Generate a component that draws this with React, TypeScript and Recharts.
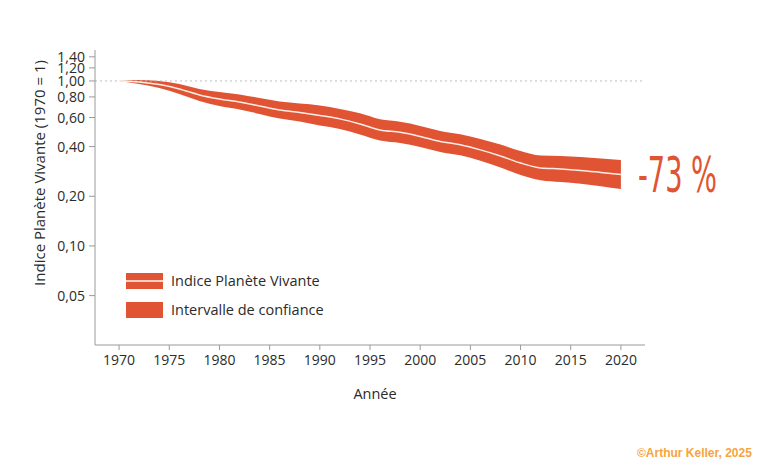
import React from "react";
import {
  ComposedChart,
  Area,
  Line,
  XAxis,
  YAxis,
  ReferenceLine,
  Legend,
} from "recharts";

const years = [
  1970, 1972, 1974, 1976, 1978, 1980, 1982, 1984, 1986, 1988, 1990, 1992, 1994,
  1996, 1998, 2000, 2002, 2004, 2006, 2008, 2010, 2012, 2014, 2016, 2018, 2020,
];
const indexValues = [
  1.0, 0.986, 0.952, 0.894, 0.823, 0.778, 0.746, 0.705, 0.667, 0.644, 0.618,
  0.589, 0.549, 0.505, 0.488, 0.461, 0.43, 0.41, 0.382, 0.351, 0.318, 0.297,
  0.293, 0.287, 0.279, 0.271,
];
const upperValues = [
  1.0, 1.014, 1.0, 0.959, 0.895, 0.858, 0.828, 0.788, 0.751, 0.73, 0.711, 0.677,
  0.636, 0.585, 0.565, 0.534, 0.498, 0.475, 0.445, 0.412, 0.376, 0.353, 0.351,
  0.346, 0.339, 0.332,
];
const lowerValues = [
  1.0, 0.959, 0.907, 0.833, 0.757, 0.705, 0.672, 0.631, 0.592, 0.568, 0.537,
  0.512, 0.474, 0.436, 0.421, 0.398, 0.371, 0.354, 0.328, 0.299, 0.269, 0.25,
  0.244, 0.238, 0.23, 0.221,
];
const yTicks = [0.05, 0.1, 0.2, 0.4, 0.6, 0.8, 1.0, 1.2, 1.4];
const xTicks = [1970, 1975, 1980, 1985, 1990, 1995, 2000, 2005, 2010, 2015, 2020];

const data = years.map((year, i) => ({
  year,
  index: indexValues[i],
  ci: [lowerValues[i], upperValues[i]],
}));

const RED = "#E05433";
const TEXT = "#2b2b2b";
const FONT = "'Open Sans', Lato, sans-serif";

const LegendContent = () => (
  <div style={{ fontFamily: FONT, fontSize: 14.5, color: TEXT, lineHeight: "16px" }}>
    <div style={{ display: "flex", alignItems: "center", height: 16, marginBottom: 13 }}>
      <svg width={37} height={16} style={{ display: "block" }}>
        <rect x={0} y={0} width={37} height={16} fill={RED} />
        <rect x={0} y={7.2} width={37} height={1.6} fill="#FCEDE6" />
      </svg>
      <span style={{ marginLeft: 8 }}>Indice Planète Vivante</span>
    </div>
    <div style={{ display: "flex", alignItems: "center", height: 16 }}>
      <svg width={37} height={16} style={{ display: "block" }}>
        <rect x={0} y={0} width={37} height={16} fill={RED} />
      </svg>
      <span style={{ marginLeft: 8 }}>Intervalle de confiance</span>
    </div>
  </div>
);

export default function App() {
  return (
    <div
      style={{
        position: "absolute",
        left: 0,
        top: 0,
        width: 768,
        height: 466,
        background: "#ffffff",
        fontFamily: FONT,
        overflow: "hidden",
      }}
    >
      <ComposedChart
        width={768}
        height={466}
        data={data}
        margin={{ top: 50, right: 123, bottom: 91, left: 0 }}
      >
        <XAxis
          dataKey="year"
          type="number"
          domain={[1967.6, 2022.4]}
          allowDataOverflow
          ticks={xTicks}
          interval={0}
          height={30}
          tickSize={5}
          tickMargin={5}
          stroke="#9a9a9a"
          tick={{ fill: TEXT, fontSize: 14, fontFamily: FONT }}
        />
        <YAxis
          type="number"
          scale="log"
          domain={[0.0251, 1.54]}
          allowDataOverflow
          ticks={yTicks}
          interval={0}
          width={95}
          tickSize={6}
          tickMargin={4}
          stroke="#9a9a9a"
          tickFormatter={(v: number) => v.toFixed(2).replace(".", ",")}
          tick={{ fill: TEXT, fontSize: 14, fontFamily: FONT }}
        />
        <ReferenceLine y={1} stroke="#bdbdbd" strokeDasharray="2 3" />
        <Area
          dataKey="ci"
          type="monotone"
          stroke="none"
          fill={RED}
          fillOpacity={1}
          isAnimationActive={false}
        />
        <Line
          dataKey="index"
          type="monotone"
          stroke="#FCEDE6"
          strokeWidth={1.5}
          dot={false}
          isAnimationActive={false}
        />
        <Legend
          layout="horizontal"
          verticalAlign="middle"
          align="center"
          content={<LegendContent />}
          wrapperStyle={{ left: 126, top: 273, width: "auto", bottom: "auto" }}
        />
      </ComposedChart>
      <svg
        width={768}
        height={466}
        style={{ position: "absolute", left: 0, top: 0, pointerEvents: "none" }}
      >
        <text
          x={39}
          y={173}
          transform="rotate(-90, 39, 173)"
          textAnchor="middle"
          dominantBaseline="central"
          fontSize={15}
          fontFamily={FONT}
          fill={TEXT}
        >
          Indice Planète Vivante (1970 = 1)
        </text>
        <text
          x={375}
          y={393}
          textAnchor="middle"
          dominantBaseline="central"
          fontSize={14.5}
          fontFamily={FONT}
          fill={TEXT}
        >
          Année
        </text>
        <text
          x={638}
          y={192}
          fontSize={49}
          fontFamily="'Liberation Sans Narrow', 'DejaVu Sans Condensed', sans-serif"
          fill={RED}
          textLength={79}
          lengthAdjust="spacingAndGlyphs"
        >
          -73 %
        </text>
        <text
          x={637}
          y={457}
          fontSize={12}
          fontWeight="bold"
          fontFamily="'Liberation Sans', Arial, sans-serif"
          fill="#F5A540"
        >
          ©Arthur Keller, 2025
        </text>
      </svg>
    </div>
  );
}
